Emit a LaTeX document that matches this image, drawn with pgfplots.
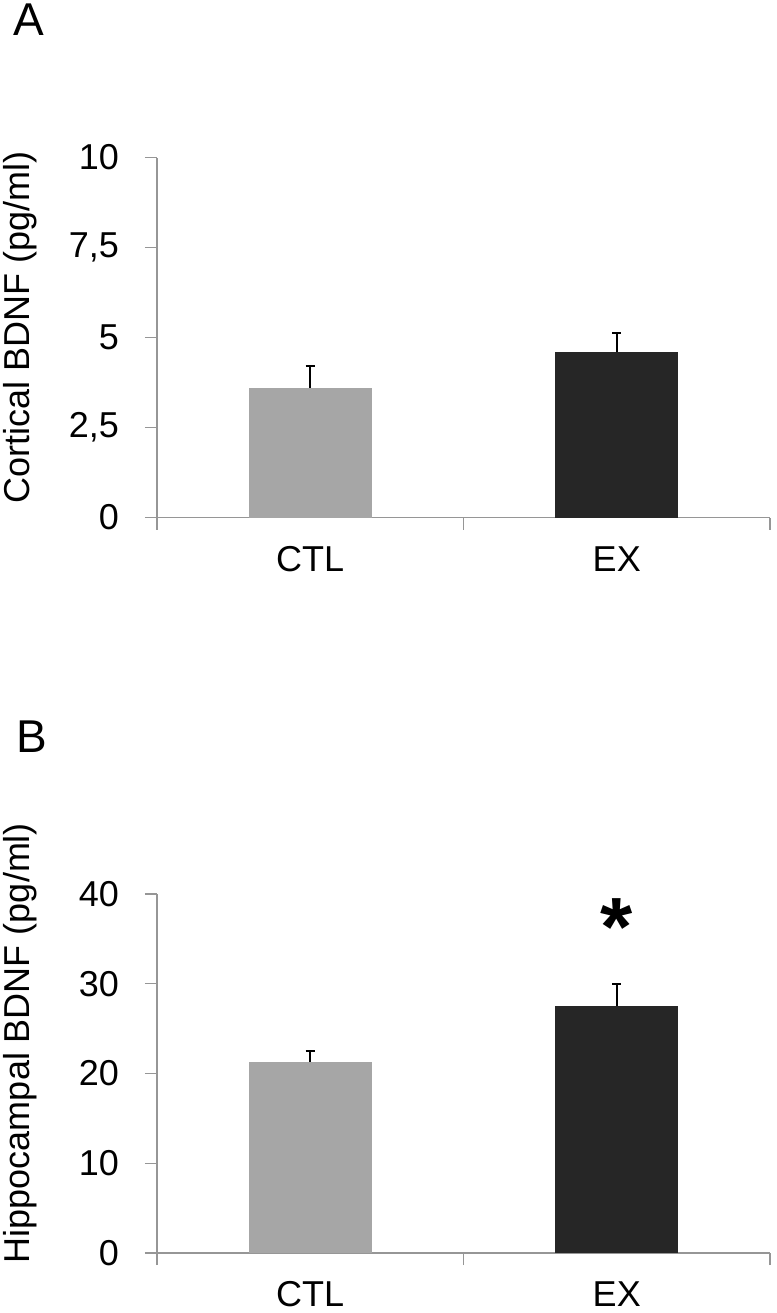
\documentclass[border=0pt]{standalone}
\usepackage{fontspec}
\setmainfont{Liberation Sans}
\usepackage{pgfplots}
\pgfplotsset{compat=1.18}
\definecolor{axgray}{RGB}{150,150,150}
\definecolor{ctl}{RGB}{166,166,166}
\definecolor{ex}{RGB}{38,38,38}
\pgfplotsset{
 panel/.style={
  scale only axis, width=459.75pt, anchor=south west,
  xmin=-0.5, xmax=1.5, ymin=0,
  axis lines=left, axis line style={-, draw=axgray, line width=0.8pt},
  tick style={draw=axgray, line width=0.8pt}, tick align=outside, major tick length=9pt,
  xtick={-0.5,0.5,1.5}, xticklabels={,,},
  extra x ticks={0,1}, extra x tick labels={CTL,EX},
  extra x tick style={major tick length=0pt, tick label style={yshift=-18pt}},
  ticklabel style={font=\fontsize{27}{32}\selectfont},
  yticklabel style={xshift=-16pt},
  /pgf/number format/assume math mode=true,
  label style={font=\fontsize{27}{32}\selectfont},
  clip=false,
  ybar, bar width=0.4,
 },
 errstyle/.style={
  error bars/.cd, y dir=plus, y explicit,
  error bar style={black, line width=1.5pt},
  error mark options={black, line width=1.5pt, mark size=3.4pt, rotate=90},
 }
}
\begin{document}
\begin{tikzpicture}
\path[use as bounding box] (0,0) rectangle (582pt,984.75pt);
\node[font=\fontsize{34.5}{38}\selectfont] at (21.75pt,969.75pt) {A};
\node[font=\fontsize{34.5}{38}\selectfont] at (23.6pt,432.4pt) {B};
% Panel A
\begin{axis}[panel, at={(117.75pt,596.6pt)}, height=270pt, ymax=10,
  ytick={0,2.5,5,7.5,10}, yticklabels={0,{2,5},5,{7,5},10},
  ylabel={Cortical BDNF (pg/ml)},
  ylabel style={at={(axis description cs:-0.2235,0.528)}, anchor=center}]
\addplot[fill=ctl, draw=none, bar shift=0pt, errstyle] coordinates {(0,3.60) +- (0,0.61)};
\addplot[fill=ex, draw=none, bar shift=0pt, errstyle] coordinates {(1,4.59) +- (0,0.53)};
\end{axis}
% Panel B
\begin{axis}[panel, at={(117.75pt,45pt)}, height=269.25pt, ymax=40,
  ytick={0,10,20,30,40},
  ylabel={Hippocampal BDNF (pg/ml)},
  ylabel style={at={(axis description cs:-0.2235,0.585)}, anchor=center}]
\addplot[fill=ctl, draw=none, bar shift=0pt, errstyle] coordinates {(0,21.3) +- (0,1.2)};
\addplot[fill=ex, draw=none, bar shift=0pt, errstyle] coordinates {(1,27.5) +- (0,2.5)};
\node[anchor=base, font=\fontsize{62}{62}\selectfont\bfseries] at (axis cs:1,33.2) {*};
\end{axis}
\end{tikzpicture}
\end{document}
